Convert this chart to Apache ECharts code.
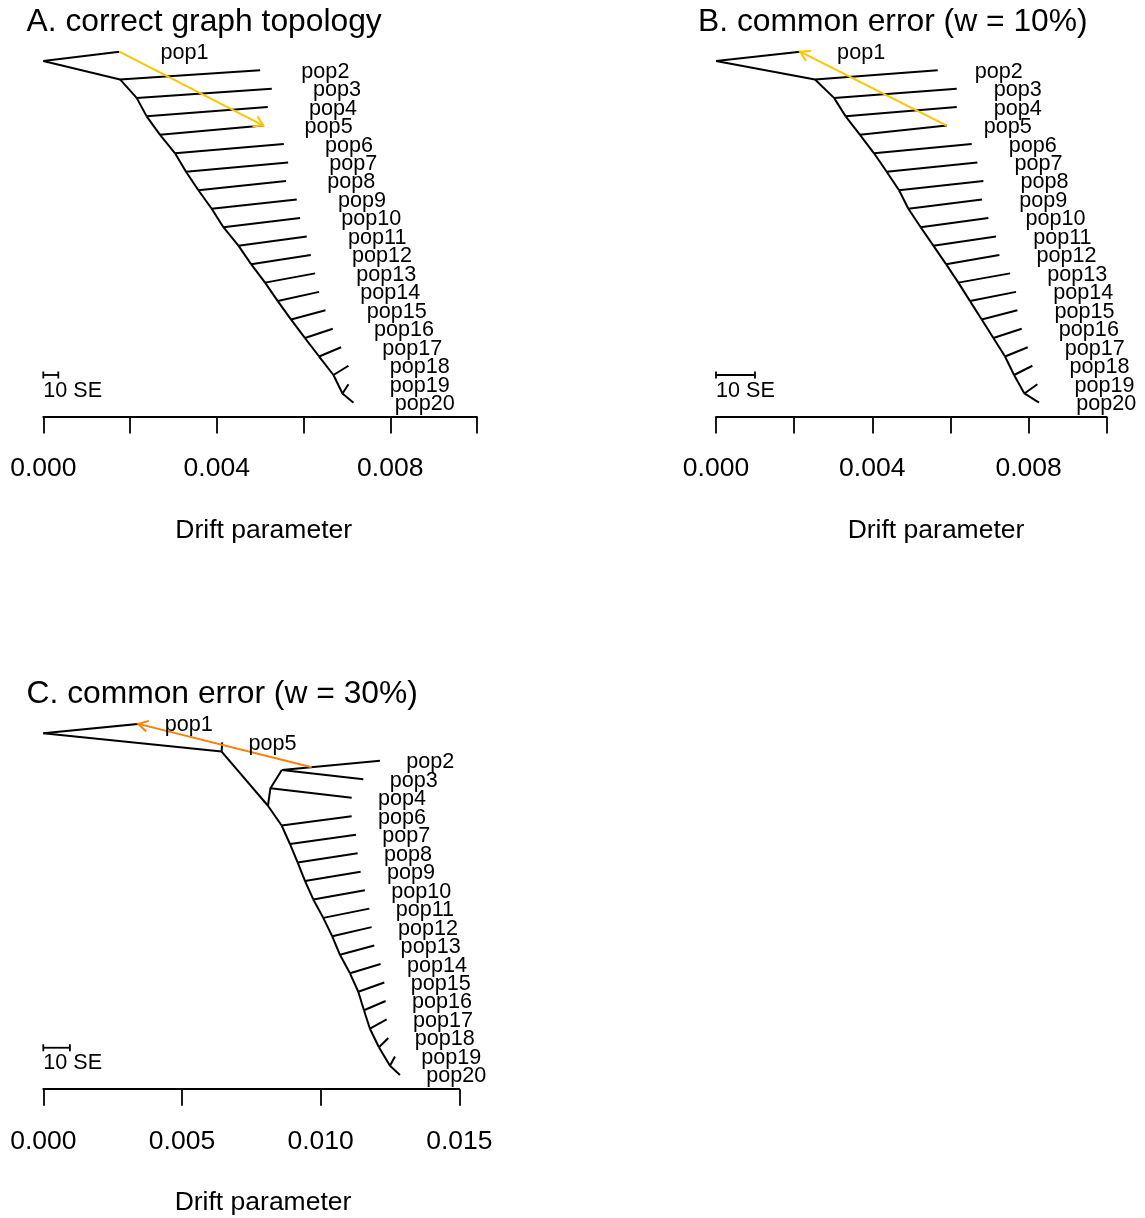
<!DOCTYPE html>
<html><head><meta charset="utf-8">
<script src="https://cdn.jsdelivr.net/npm/echarts@6/dist/echarts.min.js"></script>
<style>html,body{margin:0;padding:0;background:#fff}#c{width:1145px;height:1218px}</style>
</head><body><div id="c"></div>
<script>
// ================= DATA =================
const panelTitles = ['A. correct graph topology', 'B. common error (w = 10%)', 'C. common error (w = 30%)'];
const axisTitle = 'Drift parameter';
const seLabel = '10 SE';

// tick values / labels
const ticksAB = [0, 0.002, 0.004, 0.006, 0.008, 0.010];
const tickTextAB = ['0.000', '', '0.004', '', '0.008', ''];
const ticksC = [0, 0.005, 0.010, 0.015];
const tickTextC = ['0.000', '0.005', '0.010', '0.015'];

// ---- Panels A & B: same (chain) topology ----
const leafNamesAB = ['pop1','pop2','pop3','pop4','pop5','pop6','pop7','pop8','pop9','pop10','pop11','pop12','pop13','pop14','pop15','pop16','pop17','pop18','pop19','pop20'];
const leafYAB = [1,2,3,4,5,6,7,8,9,10,11,12,13,14,15,16,17,18,19,20];
const innerNamesAB = ['root','n2','n3','n4','n5','n6','n7','n8','n9','n10','n11','n12','n13','n14','n15','n16','n17','n18','n19'];
const innerYAB = [1.5,2.5,3.5,4.5,5.5,6.5,7.5,8.5,9.5,10.5,11.5,12.5,13.5,14.5,15.5,16.5,17.5,18.5,19.5];
const edgesAB = [
  ['root','pop1'],['root','n2'],
  ['n2','pop2'],['n2','n3'],['n3','pop3'],['n3','n4'],['n4','pop4'],['n4','n5'],
  ['n5','pop5'],['n5','n6'],['n6','pop6'],['n6','n7'],['n7','pop7'],['n7','n8'],
  ['n8','pop8'],['n8','n9'],['n9','pop9'],['n9','n10'],['n10','pop10'],['n10','n11'],
  ['n11','pop11'],['n11','n12'],['n12','pop12'],['n12','n13'],['n13','pop13'],['n13','n14'],
  ['n14','pop14'],['n14','n15'],['n15','pop15'],['n15','n16'],['n16','pop16'],['n16','n17'],
  ['n17','pop17'],['n17','n18'],['n18','pop18'],['n18','n19'],['n19','pop19'],['n19','pop20']
];

// Panel A drift values
const leafDriftA = [0.001753,0.00500,0.005268,0.005175,0.005075,0.005545,0.005645,0.005598,0.005844,0.005921,
                    0.006075,0.006167,0.006267,0.00636,0.006506,0.006675,0.006867,0.007036,0.007036,0.007152];
const innerDriftA = [0,0.001769,0.002153,0.002384,0.002692,0.003038,0.003291,0.003576,0.003883,0.004153,
                     0.004499,0.004791,0.005114,0.005406,0.005714,0.006034,0.00636,0.00669,0.006898];
const migA = [0.001753, 1, 0.005075, 5];      // from pop1 -> to pop5
const seBarA = 0.000346;

// Panel B drift values
const leafDriftB = [0.00215,0.005674,0.006161,0.006161,0.005905,0.006545,0.00669,0.006843,0.006809,0.006971,
                    0.007168,0.007253,0.007526,0.00768,0.007714,0.007825,0.007978,0.008098,0.008226,0.008268];
const innerDriftB = [0,0.002534,0.003021,0.003319,0.003686,0.004045,0.004369,0.004685,0.004924,0.005239,
                     0.005563,0.005888,0.006203,0.006502,0.006801,0.0071,0.007398,0.007629,0.007893];
const migB = [0.005905, 5, 0.00215, 1];       // from pop5 -> to pop1
const seBarB = 0.000998;

// ---- Panel C: different topology ----
const leafNamesC = ['pop1','pop5','pop2','pop3','pop4','pop6','pop7','pop8','pop9','pop10','pop11','pop12','pop13','pop14','pop15','pop16','pop17','pop18','pop19','pop20'];
const leafYC = [1,2,3,4,5,6,7,8,9,10,11,12,13,14,15,16,17,18,19,20];
const leafDriftC = [0.003425,0.00645,0.01214,0.01154,0.01112,0.011118,0.011275,0.011335,0.011442,0.011598,
                    0.011755,0.011838,0.011934,0.012163,0.012295,0.012344,0.012381,0.01244,0.01268,0.01286];
const innerNamesC = ['root','nA','nB','nC1','nC2','n6','n7','n8','n9','n10','n11','n12','n13','n14','n15','n16','n17','n18','n19'];
const innerYC = [1.5,2.5,5.43,4.48,3.5,6.5,7.5,8.5,9.5,10.5,11.5,12.5,13.5,14.5,15.5,16.5,17.5,18.5,19.5];
const innerDriftC = [0,0.00643,0.0081,0.00819,0.0086,0.008594,0.008894,0.00917,0.009435,0.009735,
                     0.010095,0.01042,0.010697,0.011057,0.011358,0.011562,0.011778,0.012103,0.0125];
const edgesC = [
  ['root','pop1'],['root','nA'],['nA','pop5'],['nA','nB'],
  ['nB','nC1'],['nC1','nC2'],['nC2','pop2'],['nC2','pop3'],['nC1','pop4'],
  ['nB','n6'],['n6','pop6'],['n6','n7'],['n7','pop7'],['n7','n8'],
  ['n8','pop8'],['n8','n9'],['n9','pop9'],['n9','n10'],['n10','pop10'],['n10','n11'],
  ['n11','pop11'],['n11','n12'],['n12','pop12'],['n12','n13'],['n13','pop13'],['n13','n14'],
  ['n14','pop14'],['n14','n15'],['n15','pop15'],['n15','n16'],['n16','pop16'],['n16','n17'],
  ['n17','pop17'],['n17','n18'],['n18','pop18'],['n18','n19'],['n19','pop19'],['n19','pop20']
];
const migC = [0.009678, 3.344, 0.003425, 1];  // from pop2 branch -> to pop1
const seBarC = 0.00096;

const seBarY = [18.5, 18.5, 18.53];
const seTextY = [19.3, 19.3, 19.3];
const migColors = ['#FFC400', '#FFC400', '#FF7F00'];

// ================= STYLE =================
const FONT = "'Liberation Sans', Arial, Helvetica, sans-serif";
const LABEL_GAP = 0.00095;   // text displacement from tip (drift units)
const LW = 2;

const grids = [
  {left: 43.3, top: 51.7, width: 433.7, height: 351},
  {left: 716,  top: 51.7, width: 390.7, height: 351},
  {left: 43.3, top: 723.9, width: 416, height: 351}
];

function nodeMap(leafNames, leafDrift, leafY, innerNames, innerDrift, innerY) {
  const m = {};
  leafNames.forEach((n, i) => m[n] = [leafDrift[i], leafY[i]]);
  innerNames.forEach((n, i) => m[n] = [innerDrift[i], innerY[i]]);
  return m;
}

const panels = [
  {nodes: nodeMap(leafNamesAB, leafDriftA, leafYAB, innerNamesAB, innerDriftA, innerYAB), edges: edgesAB,
   leaves: leafNamesAB, mig: migA, se: seBarA, ticks: ticksAB, tickText: tickTextAB, max: 0.010, interval: 0.002},
  {nodes: nodeMap(leafNamesAB, leafDriftB, leafYAB, innerNamesAB, innerDriftB, innerYAB), edges: edgesAB,
   leaves: leafNamesAB, mig: migB, se: seBarB, ticks: ticksAB, tickText: tickTextAB, max: 0.010, interval: 0.002},
  {nodes: nodeMap(leafNamesC, leafDriftC, leafYC, innerNamesC, innerDriftC, innerYC), edges: edgesC,
   leaves: leafNamesC, mig: migC, se: seBarC, ticks: ticksC, tickText: tickTextC, max: 0.015, interval: 0.005}
];

const xAxes = [], yAxes = [], series = [];
panels.forEach((p, k) => {
  xAxes.push({
    gridIndex: k, type: 'value', min: 0, max: p.max, interval: p.interval,
    position: 'bottom', offset: 14.3,
    axisLine: {show: true, onZero: false, lineStyle: {color: '#000', width: 1.8}},
    axisTick: {show: true, length: 16.5, lineStyle: {color: '#000', width: 1.8}},
    splitLine: {show: false},
    axisLabel: {
      show: true, color: '#000', fontSize: 26.5, fontFamily: FONT, margin: 39, lineHeight: 26,
      showMinLabel: true, showMaxLabel: true,
      formatter: v => { const i = p.ticks.findIndex(t => Math.abs(t - v) < 1e-9); return i >= 0 ? p.tickText[i] : ''; }
    }
  });
  yAxes.push({gridIndex: k, type: 'value', min: 1, max: 20, inverse: true, show: false});

  // tree edges
  series.push({
    type: 'lines', coordinateSystem: 'cartesian2d', xAxisIndex: k, yAxisIndex: k,
    silent: true, animation: false, polyline: false,
    lineStyle: {color: '#000', width: LW, opacity: 1},
    data: p.edges.map(e => ({coords: [p.nodes[e[0]], p.nodes[e[1]]]}))
  });

  // migration arrow
  series.push({
    type: 'custom', coordinateSystem: 'cartesian2d', xAxisIndex: k, yAxisIndex: k,
    silent: true, animation: false,
    data: [p.mig],
    encode: {x: [0, 2], y: [1, 3]},
    renderItem: (params, api) => {
      const p0 = api.coord([api.value(0), api.value(1)]);
      const p1 = api.coord([api.value(2), api.value(3)]);
      const ang = Math.atan2(p1[1] - p0[1], p1[0] - p0[0]);
      const L = 11, a = Math.PI / 6;
      const w1 = [p1[0] - L * Math.cos(ang - a), p1[1] - L * Math.sin(ang - a)];
      const w2 = [p1[0] - L * Math.cos(ang + a), p1[1] - L * Math.sin(ang + a)];
      const c = migColors[k];
      return {type: 'group', children: [
        {type: 'line', shape: {x1: p0[0], y1: p0[1], x2: p1[0], y2: p1[1]}, style: {stroke: c, lineWidth: LW}},
        {type: 'polyline', shape: {points: [w1, p1, w2]}, style: {stroke: c, lineWidth: LW, fill: 'none'}}
      ]};
    }
  });

  // 10 SE scale bar
  series.push({
    type: 'custom', coordinateSystem: 'cartesian2d', xAxisIndex: k, yAxisIndex: k,
    silent: true, animation: false,
    data: [[0, seBarY[k], p.se, seBarY[k]]],
    encode: {x: [0, 2], y: [1, 3]},
    renderItem: (params, api) => {
      const a = api.coord([api.value(0), api.value(1)]);
      const b = api.coord([api.value(2), api.value(3)]);
      const h = 3.5, st = {stroke: '#000', lineWidth: 1.8};
      return {type: 'group', children: [
        {type: 'line', shape: {x1: a[0], y1: a[1], x2: b[0], y2: b[1]}, style: st},
        {type: 'line', shape: {x1: a[0], y1: a[1] - h, x2: a[0], y2: a[1] + h}, style: st},
        {type: 'line', shape: {x1: b[0], y1: b[1] - h, x2: b[0], y2: b[1] + h}, style: st}
      ]};
    }
  });

  // leaf labels + "10 SE" (text drawn at data coordinates)
  const names = p.leaves.concat([seLabel]);
  const labData = p.leaves.map((n, i) => [p.nodes[n][0] + LABEL_GAP, p.nodes[n][1], i]);
  labData.push([0, seTextY[k], names.length - 1]);
  series.push({
    type: 'custom', coordinateSystem: 'cartesian2d', xAxisIndex: k, yAxisIndex: k,
    silent: true, animation: false,
    data: labData,
    encode: {x: 0, y: 1},
    renderItem: (params, api) => {
      const pt = api.coord([api.value(0), api.value(1)]);
      return {type: 'text', x: pt[0], y: pt[1] + 1.5,
        style: {text: names[api.value(2)], fill: '#000', font: '21.6px ' + FONT,
                textAlign: 'left', textVerticalAlign: 'middle'}};
    }
  });
});

const T = (text, x, y, size, align) => ({
  type: 'text', x: x, y: y, silent: true,
  style: {text: text, font: size + 'px ' + FONT, fill: '#000', textAlign: align, textVerticalAlign: 'middle'}
});

const chart = echarts.init(document.getElementById('c'), null, {renderer: 'canvas'});
chart.setOption({
  backgroundColor: '#fff',
  animation: false,
  grid: grids.map(g => Object.assign({outerBoundsMode: 'none', containLabel: false}, g)),
  xAxis: xAxes,
  yAxis: yAxes,
  series: series,
  graphic: [
    T(panelTitles[0], 26.5, 22.5, 31.8, 'left'),
    T(panelTitles[1], 698, 22.5, 31.8, 'left'),
    T(panelTitles[2], 26.5, 694.5, 31.8, 'left'),
    T(axisTitle, 263.7, 531, 26.5, 'center'),
    T(axisTitle, 936, 531, 26.5, 'center'),
    T(axisTitle, 263, 1203, 26.5, 'center')
  ]
});
</script>
</body></html>
